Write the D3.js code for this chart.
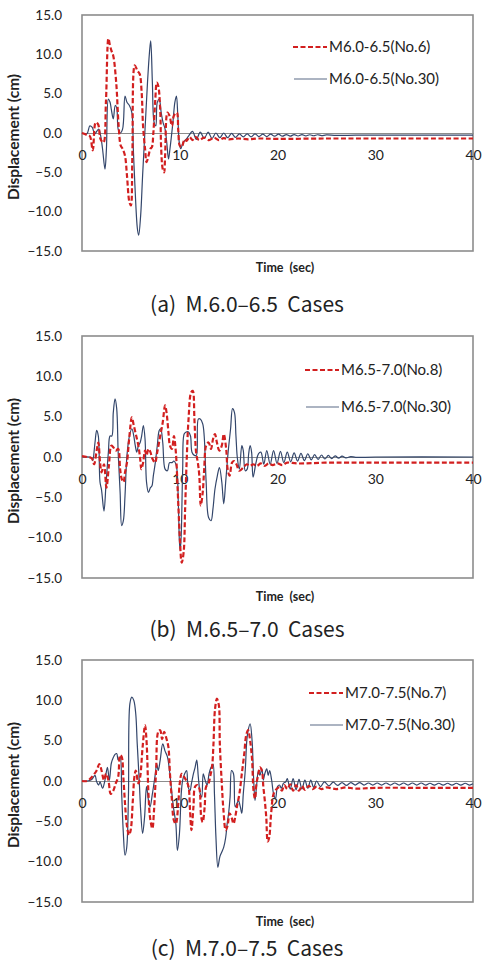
<!DOCTYPE html>
<html>
<head>
<meta charset="utf-8">
<script src="https://cdn.jsdelivr.net/npm/d3@7"></script>
<style>
  body { margin: 0; background: #fff; }
  text { font-family: Lato, "Open Sans", sans-serif; fill: #222; }
</style>
</head>
<body>
<script>
// tick values shared by the three panels
var yTicks = [-15, -10, -5, 0, 5, 10, 15];
var xTicks = [0, 10, 20, 30, 40];

// series names
var namesA = ["M6.0-6.5(No.6)", "M6.0-6.5(No.30)"];
var namesB = ["M6.5-7.0(No.8)", "M6.5-7.0(No.30)"];
var namesC = ["M7.0-7.5(No.7)", "M7.0-7.5(No.30)"];
var captions = ["(a)  M.6.0\u20136.5  Cases", "(b)  M.6.5\u20137.0  Cases", "(c)  M.7.0\u20137.5  Cases"];

// [time (sec), displacement (cm)]
var a6 = [[0,0],[0.5,-0.25],[0.8,-0.4],[1.1,-2.2],[1.4,1.35],[1.65,1.1],[1.9,-0.8],[2.2,-1.2],[2.45,4],[2.7,12.0],
  [2.85,11.2],[3.0,10.5],[3.2,9.8],[3.5,6.4],[3.75,0.9],[3.96,-1.6],[4.15,-2.0],[4.4,-2.9],[4.6,-5.4],[4.85,-8.8],
  [5.0,-9.2],[5.15,-3.0],[5.4,8.6],[5.67,7.9],[5.9,7.5],[6.1,5.2],[6.25,0.8],[6.45,-2.0],[6.6,-3.7],[6.8,-2.9],
  [7.0,-2.0],[7.15,-1.8],[7.3,0],[7.5,4.3],[7.65,6.4],[7.8,6.0],[8.0,3.0],[8.1,-2.0],[8.26,-4.6],[8.4,-5.0],
  [8.5,-2.9],[8.74,2.6],[8.95,2.2],[9.2,0.9],[9.4,2.2],[9.7,2.6],[9.85,0.3],[10.0,-1.6],[10.2,-1.8],[10.5,-0.8],
  [10.7,-1.0],[11.0,-0.5],[11.3,-0.9],[11.6,-0.5],[12,-0.9],[12.5,-0.6],[13,-0.9],[13.5,-0.6],[14,-0.9],[14.5,-0.65],
  [15,-0.8],[16,-0.7],[17,-0.8],[18,-0.7],[20,-0.75],[25,-0.7],[30,-0.7],[35,-0.7],[40,-0.7]];
var a30 = [[0,0],[0.5,-0.1],[0.8,0.9],[1.05,0.7],[1.3,-0.1],[1.7,0.5],[1.9,-0.3],[2.1,-2.0],[2.35,-4.6],[2.5,-2.0],
  [2.7,4.3],[2.87,3.9],[3.0,3.0],[3.2,1.8],[3.4,3.5],[3.55,3.2],[3.7,0.5],[3.9,0],[4.15,0.5],[4.4,4.7],
  [4.6,3.9],[4.85,3.5],[5.1,2.6],[5.25,-2.0],[5.4,-6.3],[5.67,-12.2],[5.8,-13.0],[6.0,-10.5],[6.2,-5.4],[6.45,0.5],
  [6.7,6.4],[6.9,10.2],[7.03,11.7],[7.2,6.4],[7.37,1.4],[7.55,0.9],[7.7,3.9],[7.9,4.3],[8.1,2.6],[8.3,1.3],
  [8.5,0.5],[8.67,-1.2],[8.85,-3.3],[9.0,-2.0],[9.3,1.35],[9.5,3.9],[9.66,4.7],[9.8,2.2],[9.95,-1.2],[10.1,-2.0],
  [10.35,-1.2],[10.65,-0.8],[10.9,-0.4],[11.3,0.2],[11.7,-0.8],[12.1,0.1],[12.5,-0.7],[12.9,0.1],[13.3,-0.7],[13.7,0.0],
  [14.1,-0.6],[14.5,0.0],[14.9,-0.6],[15.3,-0.05],[15.7,-0.55],[16.1,-0.1],[16.5,-0.5],[16.9,-0.1],[17.3,-0.5],[17.7,-0.1],
  [18.1,-0.45],[18.5,-0.15],[18.9,-0.45],[19.3,-0.15],[19.7,-0.4],[20.1,-0.15],[20.5,-0.4],[20.9,-0.2],[21.3,-0.4],[21.7,-0.2],
  [22.1,-0.38],[22.5,-0.2],[22.9,-0.36],[23.3,-0.22],[23.7,-0.35],[24.1,-0.22],[24.5,-0.33],[25,-0.25],[26,-0.3],[28,-0.28],
  [30,-0.28],[35,-0.27],[40,-0.27]];

var b8 = [[0,0.1],[0.5,0],[1.0,-0.15],[1.23,-0.9],[1.5,0.8],[1.67,1.8],[1.85,-0.7],[2.0,-1.9],[2.25,-0.9],[2.5,-3.8],
  [2.75,-1.1],[3.0,1.4],[3.2,1.2],[3.45,0.8],[3.7,1.0],[3.9,-1.5],[4.06,-2.7],[4.25,-3.1],[4.4,-1.9],[4.6,-0.7],
  [4.85,2.6],[5.1,4.9],[5.3,3.9],[5.55,2.6],[5.77,1.4],[5.95,-0.2],[6.07,-1.5],[6.25,-0.7],[6.45,0.8],[6.6,0.2],
  [6.8,1.0],[7.0,0.6],[7.2,-0.2],[7.47,-0.7],[7.7,0.6],[8.0,2.6],[8.26,4.3],[8.5,6.4],[8.65,5.5],[8.85,3.0],
  [9.0,1.4],[9.2,1.0],[9.4,2.6],[9.6,0.6],[9.8,-4.4],[10.0,-9.8],[10.2,-13.1],[10.4,-11.8],[10.55,-6.4],[10.7,-0.7],
  [10.9,4.7],[11.16,8.0],[11.33,8.2],[11.5,4.7],[11.67,0.6],[11.85,-0.7],[12.0,-2.3],[12.15,-6.0],[12.35,-4.4],[12.5,-1.5],
  [12.7,1.4],[12.95,1.8],[13.2,1.0],[13.4,2.2],[13.6,2.85],[13.8,1.8],[14.05,0.8],[14.3,1.4],[14.5,2.85],[14.75,1.0],
  [14.9,-1.5],[15.1,-2.3],[15.35,-0.7],[15.56,-0.5],[15.8,-0.9],[16.1,-1.7],[16.5,-1.3],[16.85,-0.9],[17.2,-1.1],[17.5,-0.9],
  [17.9,-1.1],[18.3,-0.8],[18.7,-1.1],[19.1,-0.8],[19.5,-1.0],[20,-0.8],[20.5,-1.0],[21,-0.7],[22,-0.8],[25,-0.7],
  [30,-0.7],[40,-0.7]];
var b30 = [[0,0],[0.8,0],[1.0,-0.15],[1.1,-0.45],[1.33,1.8],[1.5,3.3],[1.67,2.6],[1.84,-3.1],[2.0,-4.1],[2.25,-6.7],
  [2.45,-3.5],[2.7,0.6],[2.87,2.6],[3.05,2.6],[3.2,5.5],[3.38,7.2],[3.55,6.0],[3.7,0.6],[3.9,-4.4],[4.06,-8.5],
  [4.23,-7.9],[4.4,-4.8],[4.6,0.2],[4.85,2.6],[5.1,3.5],[5.3,2.6],[5.45,1.4],[5.6,0.6],[5.77,1.4],[5.95,1.8],
  [6.1,2.6],[6.28,3.9],[6.45,2.2],[6.6,-3.1],[6.8,-4.4],[7.0,-3.8],[7.15,-3.6],[7.3,-2.3],[7.5,-0.7],[7.7,1.4],
  [7.9,3.3],[8.05,3.5],[8.26,1.8],[8.5,-1.5],[8.74,-1.7],[8.95,-0.7],[9.2,-0.7],[9.4,-0.5],[9.65,-1.1],[9.86,-6.0],
  [9.97,-10.6],[10.05,-11.6],[10.15,-9.7],[10.3,-1.5],[10.45,2.85],[10.65,3.1],[10.9,3.1],[11.1,2.6],[11.25,0.6],[11.5,0.2],
  [11.7,0.2],[11.9,4.7],[12.1,4.7],[12.35,4.1],[12.5,2.6],[12.7,-3.1],[12.95,-7.5],[13.2,-7.9],[13.4,-6.4],[13.6,-4.0],
  [13.85,-2.3],[14.06,-1.3],[14.3,-3.1],[14.5,-5.8],[14.7,-3.1],[14.95,0.6],[15.2,3.5],[15.4,6.0],[15.6,5.5],[15.75,2.6],
  [15.9,-0.2],[16.1,-1.5],[16.35,1.4],[16.5,0.8],[16.7,-1.7],[16.9,-1.5],[17.05,0.4],[17.2,1.4],[17.35,0.6],[17.5,-2.5],
  [17.8,-0.7],[18.05,0.4],[18.3,0.6],[18.6,-0.9],[18.9,0.8],[19.25,-0.9],[19.6,0.8],[19.95,-0.8],[20.3,0.7],[20.65,-0.7],
  [21.0,0.6],[21.35,-0.6],[21.7,0.5],[22.05,-0.5],[22.4,0.45],[22.75,-0.45],[23.1,0.4],[23.45,-0.35],[23.8,0.3],[24.15,-0.3],
  [24.5,0.25],[24.85,-0.25],[25.2,0.2],[25.55,-0.2],[25.9,0.15],[26.25,-0.15],[26.6,0.1],[27,-0.1],[27.5,0.05],[28,-0.05],
  [30,0],[40,0]];

var c7 = [[0,0],[0.5,0],[0.85,0.3],[1.15,0.7],[1.5,1.3],[1.77,2.1],[2.0,1.3],[2.25,0.1],[2.46,0.9],[2.7,0.1],
  [2.94,-1.6],[3.2,-1.2],[3.45,-0.3],[3.7,0.5],[3.9,3.2],[4.06,3.0],[4.23,0.5],[4.4,-2.8],[4.57,-5.3],[4.8,-6.7],
  [4.98,-6.1],[5.2,-2.4],[5.36,0.5],[5.5,1.3],[5.77,-0.3],[5.95,0.5],[6.2,4.2],[6.45,6.9],[6.6,5.0],[6.8,-1.6],
  [6.96,-4.5],[7.2,-5.9],[7.37,-3.6],[7.58,1.3],[7.8,6.1],[8.0,6.3],[8.2,5.2],[8.4,6.1],[8.65,5.2],[8.84,4.2],
  [9.0,0.9],[9.2,-2.4],[9.4,-4.9],[9.6,-5.3],[9.85,-2.8],[10.0,-0.3],[10.2,0.9],[10.45,0.5],[10.65,0.1],[10.9,-0.7],
  [11.05,-3.6],[11.2,-6.1],[11.4,-3.2],[11.57,-0.7],[11.8,-0.5],[12.0,-0.9],[12.2,-4.5],[12.35,-5.1],[12.55,-3.2],[12.7,-0.7],
  [12.95,-0.3],[13.1,0.5],[13.3,1.7],[13.45,4.6],[13.6,8.8],[13.8,10.2],[14.0,9.4],[14.1,4.6],[14.3,-0.3],[14.47,-3.6],
  [14.7,-6.1],[14.9,-5.5],[15.1,-4.0],[15.3,-4.5],[15.5,-5.3],[15.67,-4.5],[15.85,-3.2],[16.1,-1.6],[16.35,0.9],[16.6,3.4],
  [16.8,5.7],[17.0,6.3],[17.2,5.0],[17.4,2.6],[17.55,-1.2],[17.7,-2.2],[17.85,-0.3],[18.05,0.9],[18.2,1.7],[18.4,1.3],
  [18.55,-0.7],[18.7,-2.4],[18.85,-4.5],[19.0,-7.5],[19.15,-7.0],[19.35,-4.0],[19.6,-1.6],[19.9,-1.0],[20.2,-0.8],[20.45,-1.2],
  [20.7,-0.5],[21.0,-1.0],[21.3,-0.4],[21.6,-1.2],[21.9,-0.5],[22.2,-1.2],[22.5,-0.6],[22.8,-1.1],[23.2,-0.6],[23.6,-1.0],
  [24.0,-0.7],[24.5,-1.0],[25,-0.8],[26,-1.0],[27,-0.8],[28,-0.95],[30,-0.85],[35,-0.85],[40,-0.85]];
var c30 = [[0,0],[0.5,0],[1.0,0.2],[1.33,0.7],[1.5,-0.1],[1.7,-0.5],[1.85,-0.1],[2.1,-0.9],[2.35,0.1],[2.6,1.7],
  [2.8,0.1],[3.0,2.2],[3.2,2.9],[3.38,3.3],[3.55,3.4],[3.7,2.6],[3.9,3.0],[4.06,-1.6],[4.23,-6.5],[4.4,-9.2],
  [4.57,-8.3],[4.75,-2.0],[4.9,9.6],[5.1,10.4],[5.3,10.0],[5.5,8.3],[5.65,4.6],[5.87,-0.3],[6.0,-3.6],[6.2,-6.5],
  [6.4,-4.5],[6.6,-0.7],[6.8,-2.4],[6.96,-3.2],[7.2,-1.6],[7.47,0.6],[7.65,2.1],[7.8,1.3],[8.0,2.6],[8.26,4.6],
  [8.5,3.7],[8.74,3.0],[8.95,1.3],[9.2,-1.6],[9.35,-3.2],[9.6,-5.3],[9.76,-8.6],[9.97,-6.5],[10.15,-1.6],[10.3,0.1],
  [10.5,0.9],[10.7,1.3],[10.85,-0.7],[11.05,-1.2],[11.2,-0.3],[11.4,0.9],[11.57,1.7],[11.74,2.6],[11.9,0.5],[12.1,-1.6],
  [12.25,-2.0],[12.4,0.9],[12.6,0.1],[12.8,-0.5],[13.0,0.9],[13.2,1.7],[13.4,2.1],[13.55,-1.6],[13.7,-6.9],[13.9,-10.7],
  [14.1,-9.4],[14.3,-8.8],[14.5,-8.2],[14.7,-7.0],[14.85,-5.3],[15.0,-4.0],[15.15,-2.0],[15.3,1.3],[15.5,0.9],[15.67,-3.2],
  [15.85,-2.8],[16.0,-2.4],[16.2,-3.2],[16.35,-4.0],[16.5,-1.6],[16.7,1.3],[16.86,5.0],[17.0,6.3],[17.2,7.1],[17.4,5.0],
  [17.55,0.5],[17.7,-2.4],[17.85,-0.7],[18.05,1.3],[18.2,0.7],[18.4,1.5],[18.55,0.1],[18.7,0.9],[18.9,1.5],[19.05,0.7],
  [19.2,1.3],[19.4,0.1],[19.6,-1.6],[19.8,-2.2],[20.0,-0.7],[20.2,-0.5],[20.4,-0.9],[20.6,-0.3],[20.85,-0.1],[21.0,0.3],
  [21.3,-1.0],[21.6,0.3],[21.9,-1.1],[22.2,0.2],[22.5,-1.0],[22.8,0.1],[23.1,-0.9],[23.4,0.1],[23.7,-0.8],[24.0,0.0],
  [24.4,-0.7],[24.8,-0.1],[25.25,-0.6],[25.7,-0.15],[26.15,-0.55],[26.6,-0.2],[27.05,-0.55],[27.5,-0.2],[27.95,-0.5],[28.4,-0.2],
  [28.85,-0.5],[29.3,-0.25],[29.75,-0.5],[30.2,-0.25],[30.65,-0.5],[31.1,-0.25],[31.55,-0.5],[32.0,-0.25],[32.45,-0.5],[32.9,-0.25],
  [33.35,-0.5],[33.8,-0.25],[34.25,-0.5],[34.7,-0.25],[35.15,-0.5],[35.6,-0.28],[36.05,-0.5],[36.5,-0.28],[36.95,-0.5],[37.4,-0.28],
  [37.85,-0.5],[38.3,-0.28],[38.75,-0.5],[39.2,-0.28],[39.65,-0.5],[40,-0.35]];

var width = 482,
    height = 962;

var svg = d3.select("body")
    .append("svg")
    .attr("width", width)
    .attr("height", height);

var red = "#d21f1f",
    navy = "#33466b",
    frame = "#8c8c8c";

// one panel per magnitude range
var panels = [
    {top: 15, h: 236, red: a6, navy: a30, names: namesA, cap: captions[0], leg: [293, 47, 79], timeY: 272, capY: 312},
    {top: 336, h: 242, red: b8, navy: b30, names: namesB, cap: captions[1], leg: [305, 370, 407], timeY: 601, capY: 637},
    {top: 660, h: 242, red: c7, navy: c30, names: namesC, cap: captions[2], leg: [309, 693, 725], timeY: 926, capY: 956}
];

panels.forEach(drawPanel);

function drawPanel(p) {
    var x = d3.scaleLinear().domain([0, 40]).range([82, 473]);
    var y = d3.scaleLinear().domain([-15, 15]).range([p.top + p.h, p.top]);

    var g = svg.append("g");

    // plot frame
    g.append("rect")
        .attr("x", x(0))
        .attr("y", y(15))
        .attr("width", x(40) - x(0))
        .attr("height", y(-15) - y(15))
        .attr("fill", "none")
        .attr("stroke", frame)
        .attr("stroke-width", 1.6);

    // y axis labels
    var yAxis = d3.axisLeft(y)
        .tickValues(yTicks)
        .tickFormat(d3.format(".1f"))
        .tickSize(0)
        .tickPadding(20);
    g.append("g")
        .attr("transform", "translate(" + x(0) + ",0)")
        .call(yAxis)
        .call(function (s) {
            s.select(".domain").remove();
            s.selectAll("text").style("font-size", "13.5px").attr("fill", "#222")
                .style("font-family", "Lato, sans-serif");
        });

    // x axis runs along zero
    var xAxis = d3.axisBottom(x)
        .tickValues(xTicks)
        .tickSize(0)
        .tickPadding(17);
    g.append("g")
        .attr("transform", "translate(0," + y(0) + ")")
        .call(xAxis)
        .call(function (s) {
            s.select(".domain").attr("stroke", frame).attr("stroke-width", 1.2);
            s.selectAll("text").style("font-size", "14px").attr("fill", "#222")
                .style("font-family", "Lato, sans-serif");
        });

    var line = d3.line()
        .x(function (d) { return x(d[0]); })
        .y(function (d) { return y(d[1]); })
        .curve(d3.curveCatmullRom.alpha(0.5));

    g.append("path")
        .datum(p.navy)
        .attr("fill", "none")
        .attr("stroke", navy)
        .attr("stroke-width", 1.2)
        .attr("d", line);

    g.append("path")
        .datum(p.red)
        .attr("fill", "none")
        .attr("stroke", red)
        .attr("stroke-width", 2.2)
        .attr("stroke-dasharray", "5,2.5")
        .attr("d", line);

    // legend
    var lx = p.leg[0];
    g.append("line")
        .attr("x1", lx).attr("x2", lx + 34)
        .attr("y1", p.leg[1]).attr("y2", p.leg[1])
        .attr("stroke", red).attr("stroke-width", 2.2).attr("stroke-dasharray", "5,2.5");
    g.append("line")
        .attr("x1", lx + 1).attr("x2", lx + 34)
        .attr("y1", p.leg[2]).attr("y2", p.leg[2])
        .attr("stroke", "#5a6a86").attr("stroke-width", 1.2);
    g.selectAll(".leg")
        .data(p.names)
        .enter()
        .append("text")
        .attr("class", "leg")
        .attr("x", lx + 36)
        .attr("y", function (d, i) { return p.leg[i + 1] + 5; })
        .style("font-size", "15px")
        .text(function (d) { return d; });

    // axis titles
    g.append("text")
        .attr("transform", "translate(19," + (p.top + p.h / 2 + 4) + ") rotate(-90)")
        .attr("text-anchor", "middle")
        .style("font-size", "15.5px")
        .style("font-weight", "bold")
        .text("Displacement (cm)");

    g.append("text")
        .attr("x", 285)
        .attr("y", p.timeY)
        .attr("text-anchor", "middle")
        .style("font-size", "12.5px")
        .style("font-weight", "bold")
        .style("white-space", "pre")
        .text("Time  (sec)");

    g.append("text")
        .attr("x", 247)
        .attr("y", p.capY)
        .attr("text-anchor", "middle")
        .style("font-family", "'Noto Sans CJK KR', sans-serif")
        .style("font-size", "21px")
        .style("white-space", "pre")
        .text(p.cap);
}
</script>
</body>
</html>
